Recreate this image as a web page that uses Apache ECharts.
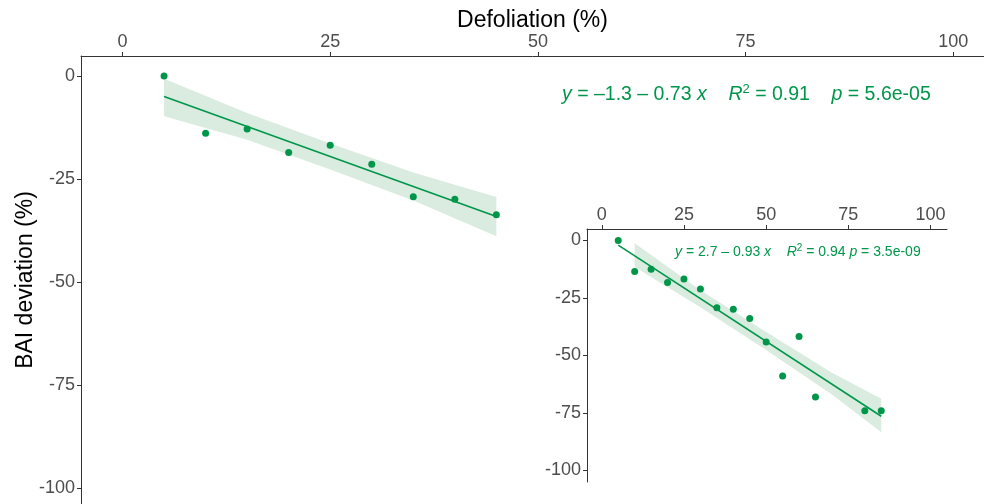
<!DOCTYPE html>
<html>
<head>
<meta charset="utf-8">
<title>BAI deviation vs defoliation</title>
<script src="https://cdn.jsdelivr.net/npm/echarts@6/dist/echarts.min.js"></script>
<style>
  html, body { margin: 0; padding: 0; background: #fff; }
  #chart { width: 984px; height: 504px; }
</style>
</head>
<body>
<div id="chart"></div>
<script>
  // ---- data ----
  const xTicks = [0, 25, 50, 75, 100];
  const yTicks = [0, -25, -50, -75, -100];

  // main panel
  const mainX = [5, 10, 15, 20, 25, 30, 35, 40, 45];
  const mainY = [0, -13.9, -12.9, -18.6, -16.8, -21.4, -29.3, -29.9, -33.7];
  const mainFitX = [5, 45];
  const mainFitY = [-5.0, -34.1];
  const mainBandX = [5, 15, 25, 35, 45];
  const mainBandUp = [-0.7, -9.0, -16.4, -23.4, -29.4];
  const mainBandLo = [-9.8, -15.5, -22.7, -30.2, -38.9];
  const mainLabel = '{i|y} = –1.3 – 0.73 {i|x}    {i|R}{sup|2} = 0.91    {i|p} = 5.6e-05';

  // inset panel
  const insetX = [5, 10, 15, 20, 25, 30, 35, 40, 45, 50, 55, 60, 65, 80, 85];
  const insetY = [0, -13.5, -12.5, -18.3, -16.7, -21.1, -29.2, -29.9, -33.9, -44.1, -58.9, -41.7, -68.0, -74.0, -74.0];
  const insetFitX = [5, 85];
  const insetFitY = [-2.0, -76.4];
  const insetBandX = [10, 30, 50, 70, 85];
  const insetBandUp = [-1.2, -21.6, -39.8, -57.5, -68.8];
  const insetBandLo = [-11.5, -29.0, -47.6, -67.0, -83.4];
  const insetLabel = '{i|y} = 2.7 – 0.93 {i|x}    {i|R}{sup|2} = 0.94 {i|p} = 3.5e-09';

  const green = '#00964a';
  const bandFill = '#d9ecdf';
  const font = "'Liberation Sans', Arial, sans-serif";

  function pairs(xs, ys) {
    return xs.map((x, i) => [x, ys[i]]);
  }

  function bandSeries(xs, up, lo, idx) {
    return {
      type: 'custom',
      xAxisIndex: idx,
      yAxisIndex: idx,
      silent: true,
      z: 1,
      data: xs.map((x, i) => [x, up[i], lo[i]]),
      encode: { x: 0, y: [1, 2] },
      renderItem: function (params, api) {
        if (params.dataIndex !== 0) return;
        const top = xs.map((x, i) => api.coord([x, up[i]]));
        const bot = xs.map((x, i) => api.coord([x, lo[i]])).reverse();
        return {
          type: 'polygon',
          shape: { points: top.concat(bot) },
          style: { fill: bandFill }
        };
      }
    };
  }

  function xAxis(idx, min, max, name) {
    return {
      type: 'value',
      gridIndex: idx,
      position: 'top',
      min: min,
      max: max,
      name: name,
      nameLocation: 'middle',
      nameGap: 24,
      nameMoveOverlap: false,
      nameTextStyle: { color: '#000', fontSize: 23, fontFamily: font },
      splitLine: { show: false },
      axisLine: { show: true, onZero: false, lineStyle: { color: '#333', width: 1 } },
      axisTick: { show: true, length: 4, customValues: xTicks, lineStyle: { color: '#333' } },
      axisLabel: { customValues: xTicks, color: '#4d4d4d', fontSize: 18, fontFamily: font, margin: 5 }
    };
  }

  function yAxis(idx, min, max, name) {
    return {
      type: 'value',
      gridIndex: idx,
      min: min,
      max: max,
      name: name,
      nameLocation: 'middle',
      nameGap: 44,
      nameMoveOverlap: false,
      nameTextStyle: { color: '#000', fontSize: 23, fontFamily: font },
      splitLine: { show: false },
      axisLine: { show: true, onZero: false, lineStyle: { color: '#333', width: 1 } },
      axisTick: { show: true, length: 4, customValues: yTicks, lineStyle: { color: '#333' } },
      axisLabel: { customValues: yTicks, color: '#4d4d4d', fontSize: 18, fontFamily: font, margin: 6 }
    };
  }

  function richText(text, left, top, size) {
    return {
      type: 'text',
      left: left,
      top: top,
      z: 10,
      style: {
        text: text,
        fill: green,
        font: size + 'px ' + font,
        rich: {
          i: { fontStyle: 'italic', fontSize: size, fontFamily: font, fill: green },
          sup: { fontSize: Math.round(size * 0.68), fontFamily: font, fill: green, padding: [0, 0, Math.round(size * 0.55), 0] }
        }
      }
    };
  }

  const chart = echarts.init(document.getElementById('chart'));
  chart.setOption({
    animation: false,
    backgroundColor: '#fff',
    grid: [
      { left: 81, top: 56, width: 903, height: 448 },
      { left: 587, top: 229, width: 360, height: 253 }
    ],
    xAxis: [
      xAxis(0, -5, 103.7, 'Defoliation (%)'),
      xAxis(1, -4.5, 105, '')
    ],
    yAxis: [
      yAxis(0, -103.9, 4.85, 'BAI deviation (%)'),
      yAxis(1, -105, 5, '')
    ],
    graphic: [
      richText(mainLabel, 562, 83, 19.5),
      richText(insetLabel, 675, 243, 14)
    ],
    series: [
      bandSeries(mainBandX, mainBandUp, mainBandLo, 0),
      {
        type: 'line',
        xAxisIndex: 0,
        yAxisIndex: 0,
        data: pairs(mainFitX, mainFitY),
        showSymbol: false,
        lineStyle: { color: green, width: 1.6 },
        z: 2
      },
      {
        type: 'scatter',
        xAxisIndex: 0,
        yAxisIndex: 0,
        data: pairs(mainX, mainY),
        symbolSize: 7,
        itemStyle: { color: green, opacity: 1 },
        z: 3
      },
      bandSeries(insetBandX, insetBandUp, insetBandLo, 1),
      {
        type: 'line',
        xAxisIndex: 1,
        yAxisIndex: 1,
        data: pairs(insetFitX, insetFitY),
        showSymbol: false,
        lineStyle: { color: green, width: 1.6 },
        z: 2
      },
      {
        type: 'scatter',
        xAxisIndex: 1,
        yAxisIndex: 1,
        data: pairs(insetX, insetY),
        symbolSize: 7,
        itemStyle: { color: green, opacity: 1 },
        z: 3
      }
    ]
  });
</script>
</body>
</html>
